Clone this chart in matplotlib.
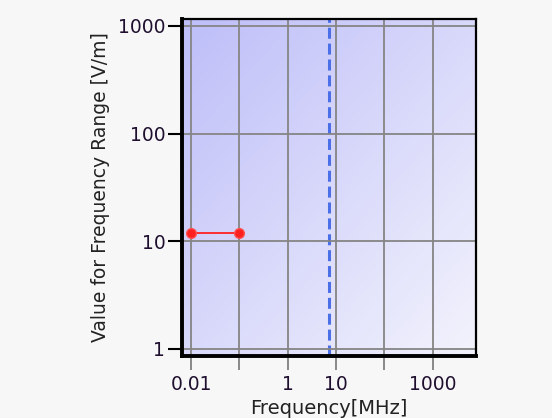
import numpy as np
import matplotlib
matplotlib.use("Agg")
import matplotlib.pyplot as plt
from matplotlib.colors import LinearSegmentedColormap
from matplotlib.ticker import FixedLocator, NullLocator, FixedFormatter

# Data
freq_mhz = [0.01, 0.1]
values_vm = [12, 12]
marker_freq = 7.2
x_ticks = [0.01, 0.1, 1, 10, 100, 1000]
x_tick_labels = ["0.01", "", "1", "10", "", "1000"]
y_ticks = [1, 10, 100, 1000]
y_tick_labels = ["1", "10", "100", "1000"]

fig = plt.figure(figsize=(5.52, 4.18), dpi=100, facecolor="#f7f7f7")
ax = fig.add_axes([182/552, 1-356/418, (476-182)/552, (356-19)/418])
ax.set_xscale("log")
ax.set_yscale("log")
ax.set_xlim(0.0065, 7900)
ax.set_ylim(0.86, 1160)

# gradient background
n = 200
xx, yy = np.meshgrid(np.linspace(0, 1, n), np.linspace(0, 1, n))
t = (xx + yy) / 2  # 0 at top-left, 1 at bottom-right (origin upper)
cmap = LinearSegmentedColormap.from_list("g", ["#bebef9", "#f3f3fd"])
ax.imshow(t, cmap=cmap, extent=[0, 1, 0, 1], transform=ax.transAxes,
          origin="upper", aspect="auto", zorder=0, interpolation="bilinear")

ax.xaxis.set_major_locator(FixedLocator(x_ticks))
ax.xaxis.set_major_formatter(FixedFormatter(x_tick_labels))
ax.xaxis.set_minor_locator(NullLocator())
ax.yaxis.set_major_locator(FixedLocator(y_ticks))
ax.yaxis.set_major_formatter(FixedFormatter(y_tick_labels))
ax.yaxis.set_minor_locator(NullLocator())

ax.grid(True, which="major", color="#858585", linewidth=1.3, zorder=1)
ax.set_axisbelow(False)

ax.axvline(marker_freq, color="#4a6fe6", linestyle=(0, (3.6, 1.6)), linewidth=2.2, zorder=2)
ax.plot(freq_mhz, values_vm, color="#ff2020", linewidth=1.3, marker="o",
        markersize=7, markerfacecolor="#ff2020", markeredgecolor="#ff5050", zorder=3)

for s in ["left", "bottom"]:
    ax.spines[s].set_linewidth(2.8)
for s in ["top", "right"]:
    ax.spines[s].set_linewidth(1.6)
for s in ax.spines.values():
    s.set_color("#000000")
    s.set_zorder(4)

ax.tick_params(axis="x", direction="out", length=10, width=1.3, color="#808080",
               labelsize=13.5, labelcolor="#201030", pad=4)
ax.tick_params(axis="y", direction="out", length=10, width=1.5, color="#000000",
               labelsize=13.5, labelcolor="#201030", pad=2)

ax.set_xlabel("Frequency[MHz]", fontsize=14, color="#222222", labelpad=3)
ax.set_ylabel("Value for Frequency Range [V/m]", fontsize=13.5, color="#222222", labelpad=6)

fig.savefig("out.png", dpi=100, facecolor=fig.get_facecolor())
